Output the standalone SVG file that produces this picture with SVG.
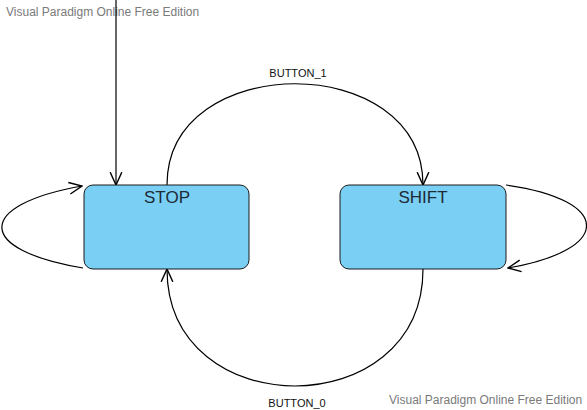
<svg xmlns="http://www.w3.org/2000/svg" width="587" height="410" viewBox="0 0 587 410">
<style>
.state{fill:#7ACFF5;stroke:#1a1a1a;stroke-width:1}
.title{font-family:"Liberation Sans",Arial,sans-serif;font-size:17px;fill:#1e2a36;text-anchor:middle}
.lbl{font-family:"Liberation Sans",Arial,sans-serif;font-size:11px;fill:#111;text-anchor:middle}
.wm{font-family:"Liberation Sans",Arial,sans-serif;font-size:12px;fill:#7a7a7a}
.edge{fill:none;stroke:#000;stroke-width:1.2}
</style>
<defs>
<marker id="arr" markerUnits="userSpaceOnUse" markerWidth="14" markerHeight="14" viewBox="0 0 12 12" refX="11" refY="6" orient="auto">
<path d="M0,1 L11,6 L0,11" fill="none" stroke="#000" stroke-width="1.2"/>
</marker>
</defs>
<rect width="587" height="410" fill="#fff"/>
<text class="wm" x="6" y="16">Visual Paradigm Online Free Edition</text>
<text class="wm" x="389" y="404">Visual Paradigm Online Free Edition</text>
<g id="connectors">
<path class="edge" d="M116,0 L116,185" marker-end="url(#arr)"/>
<path class="edge" d="M167,185 C167,50 423,50 423,185" marker-end="url(#arr)"/>
<path class="edge" d="M423,269 C423,425 167,425 167,269" marker-end="url(#arr)"/>
<path class="edge" d="M83,268 C-25,250 -25,205 82,186" marker-end="url(#arr)"/>
<path class="edge" d="M506,185 C613,200 613,250 508,268" marker-end="url(#arr)"/>
<text class="lbl" x="298" y="77">BUTTON_1</text>
<text class="lbl" x="297" y="407">BUTTON_0</text>
</g>
<g id="stop">
<rect class="state" x="84" y="185" width="165" height="84" rx="9" ry="9"/>
<text class="title" x="167" y="203">STOP</text>
</g>
<g id="shift">
<rect class="state" x="340" y="185" width="166" height="84" rx="9" ry="9"/>
<text class="title" x="423" y="203">SHIFT</text>
</g>
</svg>
